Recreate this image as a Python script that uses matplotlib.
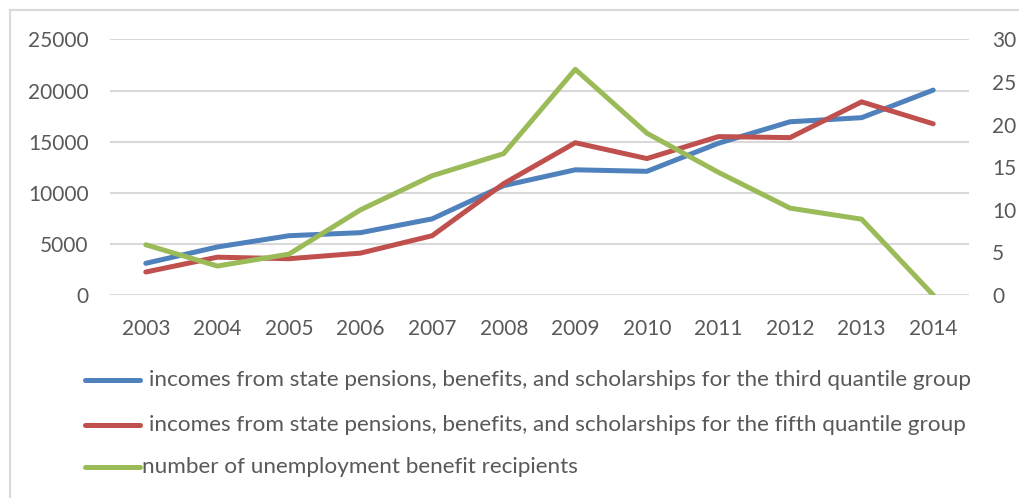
import matplotlib
matplotlib.use("Agg")
import matplotlib.pyplot as plt
from matplotlib.lines import Line2D

plt.rcParams['font.family'] = ['Lato', 'DejaVu Sans']

# data
years = ['2003', '2004', '2005', '2006', '2007', '2008',
         '2009', '2010', '2011', '2012', '2013', '2014']
third_group = [3100, 4700, 5800, 6100, 7450, 10700,
               12250, 12100, 14850, 16950, 17350, 20050]
fifth_group = [2250, 3700, 3550, 4100, 5800, 10900,
               14900, 13350, 15500, 15400, 18900, 16750]
unemployed = [5.9, 3.4, 4.8, 10.0, 14.0, 16.6,
              26.5, 19.0, 14.4, 10.2, 8.9, 0.0]

labels = ['incomes from state pensions, benefits, and scholarships for the third quantile group',
          'incomes from state pensions, benefits, and scholarships for the fifth quantile group',
          'number of unemployment benefit recipients']

blue = '#4f81bd'
red = '#c0504d'
green = '#9bbb59'
txt = '#595959'
grid = '#d9d9d9'

W, H = 1019, 498
fig = plt.figure(figsize=(W / 100, H / 100), dpi=100)

# axes placed in pixel units
ax = fig.add_axes([110 / W, (H - 295) / H, 859 / W, 255.5 / H])
ax2 = ax.twinx()

x = list(range(len(years)))
ax.plot(x, third_group, color=blue, lw=3.6, solid_capstyle='round', zorder=3)
ax.plot(x, fifth_group, color=red, lw=3.6, solid_capstyle='round', zorder=3)
ax2.plot(x, unemployed, color=green, lw=3.6, solid_capstyle='round', zorder=3)

ax.set_xlim(-0.5, len(years) - 0.5)
ax.set_ylim(0, 25000)
ax.set_yticks(range(0, 25001, 5000))
ax2.set_ylim(0, 30)
ax2.set_yticks(range(0, 31, 5))
ax.set_xticks(x)
ax.set_xticklabels(years)

ax.yaxis.grid(True, color=grid, lw=1.5)
ax.set_axisbelow(True)
for a in (ax, ax2):
    for s in a.spines.values():
        s.set_visible(False)
    a.tick_params(length=0, labelsize=15, labelcolor=txt)
ax.tick_params(axis='y', pad=15.5)
ax2.tick_params(axis='y', pad=16.5)
ax.tick_params(axis='x', pad=17)

# legend, drawn by hand in figure pixels
rows = [380, 425, 467]
colors = [blue, red, green]
text_x = [149, 149, 142]
for yy, c, lab, tx in zip(rows, colors, labels, text_x):
    fy = 1 - yy / H
    fig.add_artist(Line2D([85 / W, 140 / W], [fy, fy], color=c, lw=3.6,
                          solid_capstyle='round'))
    fig.text(tx / W, fy, lab, fontsize=16.2, color=txt, va='center', ha='left')

# chart frame (top and left edges)
fig.add_artist(Line2D([10 / W, 1], [1 - 10 / H, 1 - 10 / H], color=grid, lw=1.5))
fig.add_artist(Line2D([10 / W, 10 / W], [0, 1 - 10 / H], color=grid, lw=1.5))

fig.savefig('out.png', dpi=100, facecolor='white')
